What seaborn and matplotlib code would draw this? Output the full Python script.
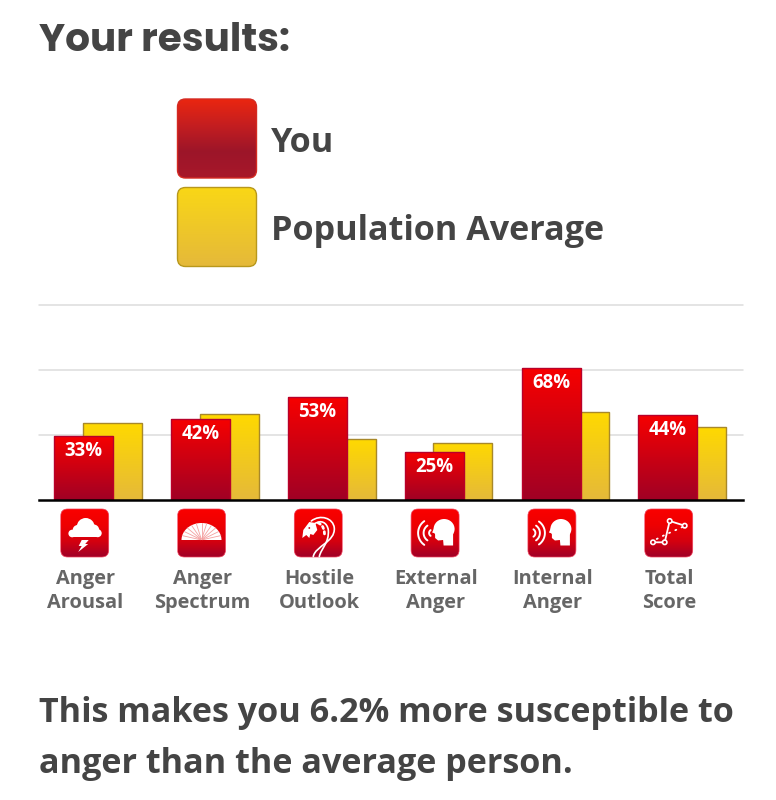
import numpy as np
import pandas as pd
import matplotlib
matplotlib.use("Agg")
import matplotlib.pyplot as plt
import seaborn as sns
from matplotlib.colors import LinearSegmentedColormap
from matplotlib.patches import FancyBboxPatch, Circle, Polygon, PathPatch, Ellipse
from matplotlib.path import Path

# Scale scores, in percent
categories = ["Anger\nArousal", "Anger\nSpectrum", "Hostile\nOutlook",
              "External\nAnger", "Internal\nAnger", "Total\nScore"]
you_values = [33, 42, 53, 25, 68, 44]
population_values = [39.6, 44.3, 31.5, 29.6, 45.6, 37.7]

W, H = 776, 800
BODY = "Open Sans"
sns.set_theme(style="white")
plt.rcParams["font.family"] = [BODY, "DejaVu Sans"]

RED_BAR = ["#f70000", "#a00025"]
YELLOW_BAR = ["#ffd900", "#e5b93a"]
RED_KEY = ["#ea2610", "#c41e20", "#9c1529", "#a8182a"]
YELLOW_KEY = ["#f9d716", "#e5b93a"]
RED_ICON = ["#fa0000", "#ee0002", "#d5000f", "#a00028"]


def gradient_fill(ax, patch, bounds, colors, zorder):
    """Paint a vertical gradient inside a patch; bounds are (left, right, bottom, top)."""
    cmap = LinearSegmentedColormap.from_list("fill", colors)
    ramp = np.linspace(0, 1, 256).reshape(-1, 1)
    im = ax.imshow(ramp, cmap=cmap, extent=bounds, origin="upper", aspect="auto",
                   interpolation="bilinear", zorder=zorder)
    im.set_clip_path(patch)


fig = plt.figure(figsize=(W / 100, H / 100), dpi=100, facecolor="white")
ax = fig.add_axes([39 / W, 1 - 500 / H, 704 / W, 195 / H])

# Overlapping pairs: each series is placed on its own offset positions
frame = pd.DataFrame({
    "slot": np.arange(len(categories)),
    "you": you_values,
    "population": population_values,
})
offset, bar_width = 0.123, 0.505
sns.barplot(x=frame["slot"] + offset, y=frame["population"], orient="x", native_scale=True,
            width=bar_width, color=YELLOW_BAR[0], saturation=1, edgecolor="#a8882a",
            linewidth=1.0, ax=ax, zorder=2)
sns.barplot(x=frame["slot"] - offset, y=frame["you"], orient="x", native_scale=True,
            width=bar_width, color=RED_BAR[0], saturation=1, edgecolor="#b8002a",
            linewidth=1.0, ax=ax, zorder=3)

y_top = 100.8
ax.set_xlim(-0.505, 5.52)
ax.set_ylim(0, y_top)
ax.set_autoscale_on(False)
ax.set_xlabel("")
ax.set_ylabel("")

ax.set_yticks([y_top / 3, 2 * y_top / 3, y_top])
ax.tick_params(axis="y", length=0, labelleft=False)
ax.grid(axis="y", color="#dcdcdc", linewidth=1.1, clip_on=False)
ax.grid(axis="x", visible=False)
ax.set_axisbelow(True)
for side in ["top", "left", "right"]:
    ax.spines[side].set_visible(False)
ax.spines["bottom"].set_color("black")
ax.spines["bottom"].set_linewidth(1.8)
ax.spines["bottom"].set_zorder(6)
ax.patch.set_alpha(0)

ax.set_xticks(frame["slot"] - 0.108)
ax.set_xticklabels(categories, fontsize=14.4, fontweight="bold", color="#666666", linespacing=1.27)
ax.tick_params(axis="x", length=0, pad=50)

for container, colors, z in [(ax.containers[0], YELLOW_BAR, 2.5), (ax.containers[1], RED_BAR, 3.5)]:
    for bar in container:
        bar.set_facecolor("none")
        bar.set_zorder(z + 0.2)
        gradient_fill(ax, bar,
                      (bar.get_x(), bar.get_x() + bar.get_width(), 0, bar.get_height()),
                      colors, z)

ax.bar_label(ax.containers[1], fmt="{:.0f}%", padding=-18, fontsize=13.4,
             fontweight="bold", color="white", zorder=8)

# Page-level layer in pixel coordinates for headings, key and scale icons
page = fig.add_axes([0, 0, 1, 1], zorder=5)
page.set_xlim(0, W)
page.set_ylim(H, 0)
page.set_autoscale_on(False)
page.axis("off")
page.patch.set_alpha(0)

page.text(39, 51, "Your results:", fontsize=28.1, fontweight="bold", color="#444444",
          family=["Poppins", "Inter", "DejaVu Sans"], va="baseline")
page.text(271, 152.5, "You", fontsize=24.6, fontweight="bold", color="#444444", va="baseline")
page.text(271, 240.5, "Population Average", fontsize=24.6, fontweight="bold", color="#444444", va="baseline")
page.text(39, 722, "This makes you 6.2% more susceptible to", fontsize=24.6, fontweight="bold",
          color="#444444", va="baseline")
page.text(39, 773, "anger than the average person.", fontsize=24.6, fontweight="bold",
          color="#444444", va="baseline")


def rounded_square(x, y, size, radius, colors, edge, lw=1.0, z=2):
    box = FancyBboxPatch((x + radius, y + radius), size - 2 * radius, size - 2 * radius,
                         boxstyle=f"round,pad={radius},rounding_size={radius}",
                         facecolor="none", edgecolor=edge, linewidth=lw, zorder=z + 0.5)
    page.add_patch(box)
    gradient_fill(page, box, (x, x + size, y + size, y), colors, z)
    return box


rounded_square(177.5, 99, 79, 8, RED_KEY, "#d42a22")
rounded_square(177.5, 187.5, 79, 8, YELLOW_KEY, "#b8981c")


# Scale icons: glyphs are drawn in a 48-unit box anchored at the icon's corner
def stroke(x0, y0, pts, lw=1.3, codes=None, ls="-", z=4):
    pts = [(x0 + px, y0 + py) for px, py in pts]
    path = Path(pts, codes) if codes else Path(pts)
    page.add_patch(PathPatch(path, facecolor="none", edgecolor="white", linewidth=lw,
                             linestyle=ls, capstyle="round", zorder=z))


def blob(x0, y0, pts, z=4):
    page.add_patch(Polygon([(x0 + px, y0 + py) for px, py in pts], closed=True,
                           facecolor="white", edgecolor="none", zorder=z))


def cloud_icon(x0, y0):
    for cx, cy, r in [(11.5, 24.5, 3.8), (17, 21, 5), (25, 18, 9), (33, 21, 5.5), (37, 24.2, 4)]:
        page.add_patch(Circle((x0 + cx, y0 + cy), r, facecolor="white", edgecolor="none", zorder=4))
    blob(x0, y0, [(11.5, 22), (37, 22), (37, 28.2), (11.5, 28.2)])
    blob(x0, y0, [(21, 31), (28, 31), (24.5, 35), (27.5, 35), (17.5, 43), (21, 37), (18, 37)])


def fan_icon(x0, y0):
    cx, cy = x0 + 24, y0 + 31
    angles = np.radians(np.linspace(0, 180, 60))
    page.add_patch(Polygon(np.column_stack([cx + 20 * np.cos(angles), cy - 17 * np.sin(angles)]),
                           closed=True, facecolor="white", edgecolor="none", zorder=4))
    for a in np.radians(np.arange(15, 180, 15)):
        page.plot([cx + 1 * np.cos(a), cx + 20 * np.cos(a)], [cy - 1 * np.sin(a), cy - 17 * np.sin(a)],
                  color="#f4a0a0", lw=0.6, zorder=4.2)


def snake_icon(x0, y0):
    codes = [Path.MOVETO, Path.CURVE4, Path.CURVE4, Path.CURVE4, Path.CURVE4, Path.CURVE4, Path.CURVE4]
    outer = [(19, 47.5), (21, 37), (41, 33), (40, 19), (39, 9), (26, 5), (17, 12)]
    inner = [(25, 47.5), (27, 39), (35, 34), (34, 21), (33, 14), (27, 10), (20, 15)]
    stroke(x0, y0, outer, 1.2, codes)
    stroke(x0, y0, inner, 1.2, codes)
    stroke(x0, y0, [(24, 14), (29, 16), (31, 22), (30, 28)], 2.0,
           [Path.MOVETO, Path.CURVE4, Path.CURVE4, Path.CURVE4], ls=(0, (0.8, 1.2)))
    blob(x0, y0, [(8, 29), (9, 21), (15, 13), (21, 14), (23, 21), (19, 26), (16, 25), (15, 29), (12, 26)])
    page.add_patch(Circle((x0 + 15, y0 + 19), 0.9, facecolor="#d00010", edgecolor="none", zorder=4.2))


def head(x0, y0, dx):
    page.add_patch(Ellipse((x0 + dx + 11, y0 + 20), 21, 20, facecolor="white", edgecolor="none", zorder=4))
    blob(x0 + dx, y0, [(2, 17), (-1, 23.5), (2, 24.5), (2, 29), (5, 31.5), (10, 31), (10.5, 36.5),
                       (20, 36.5), (20, 20), (8, 15)])


def waves(x0, y0, cx, cy, radii, facing):
    th = np.radians(np.linspace(-55, 55, 24))
    for r in radii:
        stroke(x0, y0, [(cx + facing * r * np.cos(t), cy + r * np.sin(t)) for t in th], 1.4)


def external_icon(x0, y0):
    head(x0, y0, 22)
    waves(x0, y0, 21.5, 24, [3.5, 9, 14.5], -1)


def internal_icon(x0, y0):
    head(x0, y0, 22)
    waves(x0, y0, 3, 24, [4.5, 9, 14], 1)


def trend_icon(x0, y0):
    nodes = [(8.3, 33.3), (20, 33.3), (25, 12), (40, 16.7)]
    stroke(x0, y0, nodes, 1.3)
    stroke(x0, y0, [(12, 30), (20, 26), (40, 17)], 1.3, ls=(0, (0.6, 3.2)))
    for nx, ny in nodes:
        page.add_patch(Circle((x0 + nx, y0 + ny), 2.2, facecolor="#d00010", edgecolor="white",
                              linewidth=1.2, zorder=4.3))


glyphs = [cloud_icon, fan_icon, snake_icon, external_icon, internal_icon, trend_icon]
for i, draw in enumerate(glyphs):
    left = 60.7 + i * 116.8
    rounded_square(left, 509, 48, 7, RED_ICON, "#f0405a", lw=0.5)
    draw(left, 509)

fig.savefig("out.png", dpi=100, facecolor="white")
